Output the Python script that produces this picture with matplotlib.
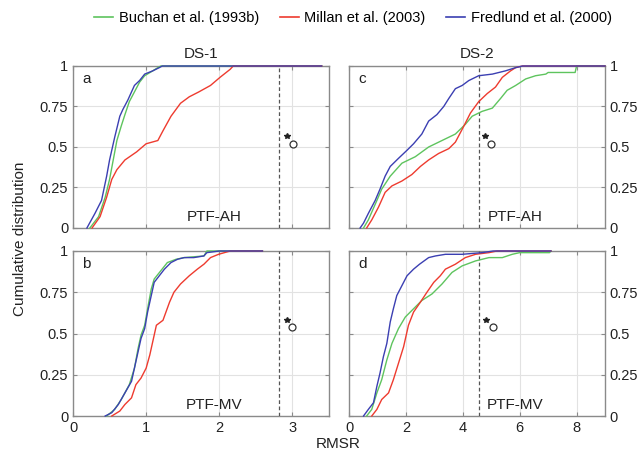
import matplotlib
matplotlib.use("Agg")
import matplotlib.pyplot as plt
from matplotlib.lines import Line2D

plt.rcParams['font.family'] = ['Liberation Sans', 'DejaVu Sans']

series_names = ["Buchan et al. (1993b)", "Millan et al. (2003)", "Fredlund et al. (2000)"]
series_colors = ["#5ec45e", "#ee3b2f", "#3b3fb2"]

# Panel a: DS-1, PTF-AH
a_buchan_x = [0.23, 0.35, 0.44, 0.50, 0.55, 0.60, 0.66, 0.71, 0.77, 0.84, 0.91, 0.98, 1.09, 1.16, 1.20, 3.40]
a_buchan_y = [0.00, 0.07, 0.19, 0.30, 0.42, 0.54, 0.63, 0.70, 0.78, 0.84, 0.90, 0.94, 0.97, 0.99, 1.00, 1.00]
a_millan_x = [0.26, 0.37, 0.46, 0.53, 0.60, 0.71, 0.87, 1.00, 1.16, 1.23, 1.34, 1.47, 1.59, 1.72, 1.88, 2.01, 2.15, 2.19, 3.40]
a_millan_y = [0.00, 0.07, 0.19, 0.30, 0.36, 0.42, 0.47, 0.52, 0.54, 0.60, 0.69, 0.77, 0.81, 0.84, 0.88, 0.93, 0.98, 1.00, 1.00]
a_fred_x = [0.19, 0.30, 0.39, 0.46, 0.50, 0.57, 0.64, 0.68, 0.75, 0.84, 0.91, 0.98, 1.09, 1.18, 1.22, 3.40]
a_fred_y = [0.00, 0.09, 0.17, 0.32, 0.42, 0.56, 0.69, 0.73, 0.79, 0.88, 0.91, 0.95, 0.97, 0.99, 1.00, 1.00]

# Panel b: DS-1, PTF-MV
b_buchan_x = [0.46, 0.57, 0.66, 0.77, 0.84, 0.89, 0.93, 0.98, 1.02, 1.07, 1.11, 1.20, 1.29, 1.41, 1.52, 1.79, 1.83, 2.59]
b_buchan_y = [0.00, 0.04, 0.10, 0.19, 0.29, 0.41, 0.49, 0.55, 0.65, 0.77, 0.83, 0.88, 0.93, 0.95, 0.96, 0.97, 1.00, 1.00]
b_millan_x = [0.53, 0.64, 0.71, 0.80, 0.86, 0.93, 1.00, 1.05, 1.09, 1.14, 1.23, 1.32, 1.38, 1.47, 1.59, 1.70, 1.79, 1.88, 1.99, 2.15, 2.59]
b_millan_y = [0.00, 0.03, 0.07, 0.11, 0.19, 0.23, 0.29, 0.37, 0.45, 0.55, 0.58, 0.69, 0.75, 0.80, 0.85, 0.89, 0.92, 0.96, 0.98, 1.00, 1.00]
b_fred_x = [0.44, 0.53, 0.62, 0.71, 0.80, 0.84, 0.89, 0.93, 0.98, 1.02, 1.07, 1.11, 1.18, 1.25, 1.34, 1.43, 1.52, 1.65, 1.79, 1.83, 2.00, 2.59]
b_fred_y = [0.00, 0.02, 0.07, 0.14, 0.21, 0.29, 0.39, 0.47, 0.53, 0.63, 0.73, 0.81, 0.85, 0.89, 0.93, 0.95, 0.96, 0.96, 0.97, 0.99, 1.00, 1.00]

# Panel c: DS-2, PTF-AH
c_buchan_x = [0.51, 0.68, 0.98, 1.15, 1.45, 1.86, 2.33, 2.80, 3.27, 3.74, 4.09, 4.33, 4.68, 5.04, 5.33, 5.56, 5.86, 6.21, 6.56, 6.92, 7.00, 7.95, 8.00, 9.00]
c_buchan_y = [0.00, 0.05, 0.17, 0.24, 0.32, 0.40, 0.44, 0.50, 0.54, 0.58, 0.64, 0.69, 0.72, 0.74, 0.80, 0.85, 0.88, 0.92, 0.94, 0.95, 0.96, 0.96, 1.00, 1.00]
c_millan_x = [0.62, 0.80, 1.04, 1.27, 1.51, 1.86, 2.21, 2.51, 2.80, 3.15, 3.51, 3.74, 4.04, 4.27, 4.56, 4.86, 5.15, 5.39, 5.68, 5.86, 6.10, 9.00]
c_millan_y = [0.00, 0.05, 0.13, 0.22, 0.26, 0.29, 0.33, 0.38, 0.42, 0.46, 0.49, 0.53, 0.63, 0.71, 0.78, 0.83, 0.87, 0.93, 0.97, 0.99, 1.00, 1.00]
c_fred_x = [0.39, 0.51, 0.68, 0.92, 1.09, 1.27, 1.45, 1.74, 2.04, 2.27, 2.56, 2.80, 3.09, 3.33, 3.51, 3.74, 3.98, 4.21, 4.56, 5.04, 5.50, 5.86, 6.10, 9.00]
c_fred_y = [0.00, 0.03, 0.09, 0.17, 0.24, 0.32, 0.38, 0.43, 0.48, 0.52, 0.58, 0.66, 0.70, 0.75, 0.80, 0.86, 0.88, 0.91, 0.94, 0.95, 0.97, 0.99, 1.00, 1.00]

# Panel d: DS-2, PTF-MV
d_buchan_x = [0.62, 0.80, 0.98, 1.15, 1.33, 1.51, 1.74, 1.98, 2.27, 2.56, 2.92, 3.27, 3.62, 3.98, 4.45, 4.92, 5.39, 5.74, 6.00, 7.05, 7.10]
d_buchan_y = [0.00, 0.04, 0.14, 0.22, 0.34, 0.44, 0.53, 0.60, 0.65, 0.70, 0.74, 0.80, 0.87, 0.91, 0.94, 0.96, 0.96, 0.98, 0.99, 0.99, 1.00]
d_millan_x = [0.80, 0.98, 1.15, 1.39, 1.56, 1.74, 1.92, 2.09, 2.27, 2.51, 2.74, 2.98, 3.21, 3.39, 3.74, 4.09, 4.45, 4.92, 5.20, 7.10]
d_millan_y = [0.00, 0.04, 0.10, 0.14, 0.22, 0.32, 0.42, 0.55, 0.63, 0.69, 0.75, 0.81, 0.85, 0.89, 0.92, 0.96, 0.98, 0.99, 1.00, 1.00]
d_fred_x = [0.51, 0.68, 0.86, 0.98, 1.09, 1.21, 1.33, 1.45, 1.56, 1.68, 1.86, 2.04, 2.27, 2.48, 2.80, 3.04, 3.39, 3.98, 4.68, 5.07, 7.10]
d_fred_y = [0.00, 0.04, 0.08, 0.18, 0.26, 0.36, 0.44, 0.57, 0.65, 0.73, 0.79, 0.85, 0.89, 0.92, 0.96, 0.97, 0.98, 0.98, 0.99, 1.00, 1.00]

panel_letters = ["a", "b", "c", "d"]
panel_ptf = ["PTF-AH", "PTF-MV", "PTF-AH", "PTF-MV"]
column_titles = ["DS-1", "DS-2"]
dashed_x = [2.82, 2.82, 4.58, 4.58]
star_pts = [(2.93, 0.567), (2.93, 0.58), (4.79, 0.567), (4.82, 0.584)]
circ_pts = [(3.01, 0.52), (3.00, 0.54), (5.00, 0.52), (5.07, 0.54)]

y_ticks = [0, 0.25, 0.5, 0.75, 1]
y_tick_labels = ["0", "0.25", "0.5", "0.75", "1"]
x_ticks_left = [0, 1, 2, 3]
x_ticks_right = [0, 2, 4, 6, 8]

panels = [
    [(a_buchan_x, a_buchan_y), (a_millan_x, a_millan_y), (a_fred_x, a_fred_y)],
    [(b_buchan_x, b_buchan_y), (b_millan_x, b_millan_y), (b_fred_x, b_fred_y)],
    [(c_buchan_x, c_buchan_y), (c_millan_x, c_millan_y), (c_fred_x, c_fred_y)],
    [(d_buchan_x, d_buchan_y), (d_millan_x, d_millan_y), (d_fred_x, d_fred_y)],
]

W, H = 638, 451
fig = plt.figure(figsize=(W / 100, H / 100), dpi=100)

def box(l, t, r, b):
    return [l / W, 1 - b / H, (r - l) / W, (b - t) / H]

rects = [box(73, 66, 329, 228), box(73, 251, 329, 416),
         box(349, 66, 605, 228), box(349, 251, 605, 416)]

spine_col = "#8a8a8a"
for i in range(4):
    ax = fig.add_axes(rects[i])
    left_col = i < 2
    bottom_row = i % 2 == 1
    xlim = (0, 3.5) if left_col else (0, 9)
    ax.set_xlim(*xlim)
    ax.set_ylim(0, 1)
    ax.set_xticks(x_ticks_left if left_col else x_ticks_right)
    ax.set_yticks(y_ticks)
    ax.set_yticklabels(y_tick_labels)
    ax.grid(True, color="#e2e2e2", linewidth=0.8)
    ax.set_axisbelow(True)
    for s in ax.spines.values():
        s.set_color(spine_col)
        s.set_linewidth(1.0)
        s.set_zorder(1.5)
    ax.tick_params(direction="in", length=3, color=spine_col, labelsize=10.5,
                   labelcolor="#222222", top=True, right=True)
    if not left_col:
        ax.yaxis.tick_right()
        ax.tick_params(axis="y", direction="in", left=True, right=True)
    if not bottom_row:
        ax.tick_params(axis="x", labelbottom=False)
    for (xs, ys), col in zip(panels[i], series_colors):
        ax.plot(xs, ys, color=col, linewidth=1.0, zorder=3, clip_on=False)
    ax.axvline(dashed_x[i], color="#555555", linestyle=(0, (3, 2)), linewidth=0.9, zorder=2)
    ax.plot([star_pts[i][0]], [star_pts[i][1]], marker="*", color="#222222",
            markersize=4, linestyle="none")
    ax.plot([circ_pts[i][0]], [circ_pts[i][1]], marker="o", markerfacecolor="white",
            markeredgecolor="#333333", markersize=5, markeredgewidth=0.9, linestyle="none")
    ax.text(0.035, 0.965, panel_letters[i], transform=ax.transAxes, fontsize=11,
            va="top", ha="left", color="#222222")
    ax.text(xlim[1] * (0.55 if left_col else 0.65), 0.065, panel_ptf[i], fontsize=11,
            ha="center", va="center", color="#222222")
    if not bottom_row:
        ax.set_title(column_titles[0 if left_col else 1], fontsize=11, pad=6,
                     color="#222222")

fig.text(20 / W, 0.47, "Cumulative distribution", rotation=90, ha="center",
         va="center", fontsize=11, color="#222222")
fig.text(338 / W, 1 - 444 / H, "RMSR", ha="center", va="center", fontsize=11,
         color="#222222")

handles = [Line2D([0], [0], color=c, linewidth=1.2) for c in series_colors]
fig.legend(handles, series_names, loc="center", bbox_to_anchor=(353 / W, 1 - 18 / H),
           ncol=3, frameon=False, fontsize=10.5, handlelength=1.3, handletextpad=0.4,
           columnspacing=1.4)

fig.savefig("out.png", dpi=100)
